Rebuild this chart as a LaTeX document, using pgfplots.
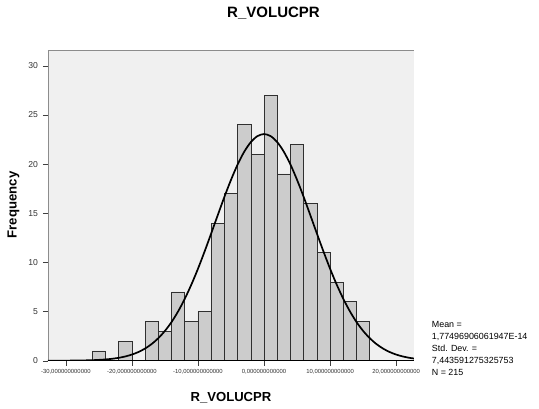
\documentclass[border=0pt]{standalone}
\usepackage{fontspec}
\setmainfont{Liberation Sans}
\usepackage{pgfplots}
\pgfplotsset{compat=1.18}

\definecolor{plotbg}{HTML}{F0F0F0}
\definecolor{barfill}{HTML}{CCCCCC}
\definecolor{barline}{HTML}{303030}
\definecolor{frame}{HTML}{8C8C8C}

\begin{document}
\begin{tikzpicture}
\useasboundingbox (0,0) rectangle (539pt,409pt);

\begin{axis}[
	at={(48pt,48.3pt)}, anchor=south west,
	scale only axis,
	width=366pt, height=310.7pt,
	xmin=-32.7, xmax=22.7,
	ymin=0, ymax=31.6,
	axis background/.style={fill=plotbg},
	axis line style={draw=frame},
	axis x line*=bottom, axis y line*=left,
	xtick={-30,-20,...,20},
	xticklabels={{-30,000000000000},{-20,000000000000},{-10,000000000000},{0,000000000000},{10,000000000000},{20,000000000000}},
	ytick={0,5,...,30},
	tick align=outside,
	major tick length=5pt,
	tick style={draw=black!75},
	/pgf/number format/assume math mode=true,
	xticklabel style={font=\fontsize{5.9}{7}\selectfont, color=black!80},
	yticklabel style={font=\fontsize{8.6}{10}\selectfont, color=black!80, xshift=-1.5pt},
	clip=true,
]
% frame top and right
\addplot[draw=frame, line width=0.6pt, forget plot] coordinates {(-32.7,31.6)(22.7,31.6)(22.7,0)};

% histogram, bin width 2
\addplot[ybar, bar width=2, bar shift=0pt, fill=barfill, draw=barline, line width=0.6pt]
	coordinates {
		(-25,1)(-21,2)(-17,4)(-15,3)(-13,7)(-11,4)(-9,5)(-7,14)(-5,17)(-3,24)(-1,21)
		(1,27)(3,19)(5,22)(7,16)(9,11)(11,8)(13,6)(15,4)
	};

% base line
\addplot[black, line width=0.8pt] coordinates {(-32.7,0)(22.7,0)};

% normal curve (mean 0, sd 7.4436, N 215, width 2)
\addplot[black, line width=1.7pt, smooth]
	coordinates {
		(-32.7,0.0015)(-30,0.0068)(-28,0.0195)(-26,0.052)(-25,0.082)(-24,0.127)(-23,0.195)
		(-22,0.292)(-21,0.431)(-20,0.624)(-19,0.887)(-18,1.24)(-17,1.70)(-16,2.29)(-15,3.03)
		(-14,3.93)(-13,5.02)(-12,6.29)(-11,7.74)(-10,9.35)(-9,11.10)(-8,12.94)(-7,14.81)
		(-6,16.66)(-5,18.39)(-4,19.95)(-3,21.25)(-2,22.23)(-1,22.84)(0,23.05)
		(1,22.84)(2,22.23)(3,21.25)(4,19.95)(5,18.39)(6,16.66)(7,14.81)(8,12.94)(9,11.10)
		(10,9.35)(11,7.74)(12,6.29)(13,5.02)(14,3.93)(15,3.03)(16,2.29)(17,1.70)(18,1.24)
		(19,0.887)(20,0.624)(21,0.431)(22,0.292)(22.7,0.220)
	};
\end{axis}

\node[anchor=base, font=\bfseries\fontsize{15}{18}\selectfont] at (273.5pt,391.3pt) {R\_VOLUCPR};
\node[anchor=base, font=\bfseries\fontsize{13.1}{16}\selectfont] at (231pt,7.7pt) {R\_VOLUCPR};
\node[rotate=90, font=\bfseries\fontsize{13.2}{16}\selectfont] at (13.5pt,204pt) {Frequency};

\begin{scope}[every node/.style={anchor=base west, inner sep=0pt, font=\fontsize{8.9}{11}\selectfont}]
\node at (431.7pt,81.8pt) {Mean =};
\node at (431.7pt,69.8pt) {1,77496906061947E-14};
\node at (431.7pt,57.8pt) {Std. Dev. =};
\node at (431.7pt,45.8pt) {7,443591275325753};
\node at (431.7pt,33.8pt) {N = 215};
\end{scope}
\end{tikzpicture}
\end{document}
